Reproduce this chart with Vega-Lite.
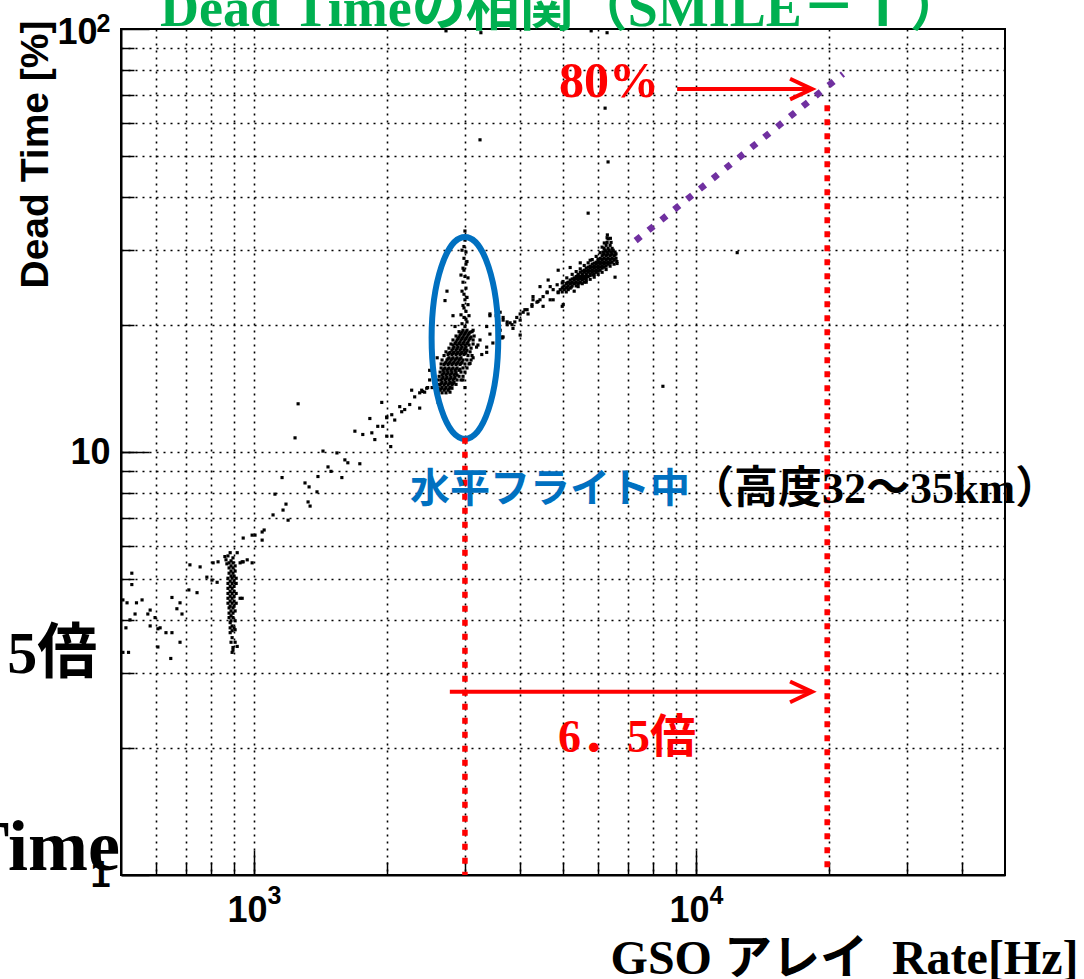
{
  "$schema": "https://vega.github.io/schema/vega-lite/v6.json",
  "width": 884,
  "height": 846,
  "autosize": {"type": "none"},
  "padding": {"left": 121, "top": 29, "right": 79, "bottom": 104},
  "background": "white",
  "config": {"view": {"stroke": "#000", "strokeWidth": 2}},
  "datasets": {
    "pts": [
      {"rate":1258,"dead":13.0},{"rate":1238,"dead":10.8},{"rate":1691,"dead":11.2},{"rate":1762,"dead":11.0},{"rate":1847,"dead":11.1},{"rate":1905,"dead":11.5},{"rate":1945,"dead":13.1},{"rate":1996,"dead":12.1},{"rate":1996,"dead":10.9},{"rate":1432,"dead":10.05},
      {"rate":1540,"dead":9.95},{"rate":1605,"dead":9.58},{"rate":1630,"dead":9.43},{"rate":1735,"dead":9.38},{"rate":1470,"dead":9.22},{"rate":1493,"dead":9.0},{"rate":1580,"dead":8.7},{"rate":1395,"dead":8.75},{"rate":1304,"dead":8.45},{"rate":1388,"dead":8.05},
      {"rate":1332,"dead":8.27},{"rate":1157,"dead":8.7},{"rate":1115,"dead":7.95},{"rate":1325,"dead":7.62},{"rate":1339,"dead":7.45},{"rate":1181,"dead":7.53},{"rate":1163,"dead":7.29},{"rate":1104,"dead":7.1},{"rate":1194,"dead":6.9},{"rate":1054,"dead":6.54},
      {"rate":1043,"dead":6.47},{"rate":1005,"dead":6.36},{"rate":1043,"dead":6.19},{"rate":945,"dead":6.26},{"rate":990,"dead":6.36},{"rate":808,"dead":5.47},{"rate":829,"dead":5.5},{"rate":803,"dead":4.98},{"rate":755,"dead":5.35},{"rate":716,"dead":5.41},
      {"rate":782,"dead":5.06},{"rate":825,"dead":4.92},{"rate":743,"dead":4.65},{"rate":712,"dead":4.72},{"rate":680,"dead":4.4},{"rate":652,"dead":4.53},{"rate":669,"dead":4.26},{"rate":687,"dead":4.14},{"rate":582,"dead":4.23},{"rate":575,"dead":4.14},
      {"rate":558,"dead":4.47},{"rate":542,"dead":4.4},{"rate":529,"dead":5.17},{"rate":529,"dead":4.86},{"rate":516,"dead":4.4},{"rate":505,"dead":4.47},{"rate":538,"dead":4.14},{"rate":524,"dead":4.01},{"rate":513,"dead":3.84},{"rate":582,"dead":3.88},
      {"rate":597,"dead":4.06},{"rate":606,"dead":3.82},{"rate":613,"dead":3.84},{"rate":632,"dead":3.74},{"rate":652,"dead":3.74},{"rate":680,"dead":3.55},{"rate":648,"dead":3.25},{"rate":606,"dead":3.46},{"rate":520,"dead":3.36},{"rate":505,"dead":3.36},
      {"rate":940,"dead":5.5},{"rate":965,"dead":5.56},{"rate":990,"dead":5.47},{"rate":930,"dead":4.51},
      {"rate":1996,"dead":12.05},{"rate":2049,"dead":12.25},{"rate":2158,"dead":12.45},{"rate":2136,"dead":12.8},{"rate":2192,"dead":12.6},{"rate":2309,"dead":13.5},{"rate":2370,"dead":13.8},{"rate":2395,"dead":14.0},{"rate":2458,"dead":14.15},{"rate":2370,"dead":12.7},
      {"rate":2496,"dead":14.8},{"rate":2049,"dead":10.9},{"rate":1955,"dead":11.5},{"rate":2038,"dead":10.3},{"rate":2081,"dead":11.9},{"rate":2250,"dead":12.95},{"rate":2432,"dead":13.85},{"rate":2529,"dead":14.2},{"rate":2273,"dead":14.0},{"rate":1876,"dead":10.7},{"rate":1828,"dead":12.0},
      {"rate":2496,"dead":15.6},{"rate":2470,"dead":14.2},{"rate":2407,"dead":13.9},{"rate":2732,"dead":24.0},{"rate":2704,"dead":22.8},{"rate":2819,"dead":21.0},{"rate":2849,"dead":19.8},{"rate":3130,"dead":19.4},{"rate":3210,"dead":17.9},{"rate":3275,"dead":17.0},
      {"rate":3360,"dead":17.7},{"rate":3417,"dead":21.0},{"rate":3560,"dead":21.2},{"rate":3604,"dead":19.4},{"rate":3640,"dead":18.7},{"rate":2970,"dead":14.8},{"rate":3000,"dead":14.2},{"rate":3081,"dead":16.2},{"rate":3130,"dead":16.7},{"rate":2596,"dead":16.7},{"rate":2610,"dead":13.1},{"rate":2804,"dead":14.55},
      {"rate":3417,"dead":21.2},{"rate":3530,"dead":21.0},{"rate":3604,"dead":21.4},{"rate":3660,"dead":20.5},{"rate":3737,"dead":20.3},{"rate":3834,"dead":20.0},{"rate":3853,"dead":19.6},{"rate":3930,"dead":20.8},{"rate":4000,"dead":20.5},{"rate":4063,"dead":21.4},
      {"rate":4147,"dead":21.7},{"rate":4168,"dead":21.2},{"rate":4254,"dead":22.1},{"rate":4365,"dead":22.6},{"rate":4436,"dead":22.9},{"rate":4507,"dead":23.3},{"rate":4603,"dead":23.8},{"rate":4750,"dead":24.2},{"rate":4677,"dead":24.6},{"rate":4850,"dead":24.85},
      {"rate":4980,"dead":22.1},{"rate":4750,"dead":22.9},{"rate":4507,"dead":22.1},{"rate":4277,"dead":22.9},{"rate":3360,"dead":19.8},{"rate":3245,"dead":18.4},{"rate":3187,"dead":17.7},{"rate":3417,"dead":19.0},{"rate":3568,"dead":19.1},{"rate":3470,"dead":18.1},{"rate":3660,"dead":18.7},{"rate":3360,"dead":17.2},
      {"rate":3660,"dead":20.8},{"rate":3737,"dead":20.0},{"rate":3890,"dead":20.3},{"rate":4000,"dead":21.2},{"rate":4100,"dead":21.7},{"rate":4254,"dead":22.3},{"rate":4277,"dead":23.3},{"rate":4390,"dead":22.7},{"rate":4603,"dead":23.9},{"rate":4677,"dead":22.9},
      {"rate":4876,"dead":23.8},{"rate":4980,"dead":25.1},{"rate":5006,"dead":22.3},{"rate":4436,"dead":24.6},{"rate":4628,"dead":25.5},{"rate":4876,"dead":26.9},{"rate":5190,"dead":27.3},{"rate":5470,"dead":28.0},{"rate":5760,"dead":28.4},{"rate":5852,"dead":26.2},
      {"rate":6557,"dead":25.9},{"rate":6625,"dead":27.9},{"rate":6291,"dead":32.1},{"rate":4000,"dead":18.9},{"rate":3640,"dead":18.6},{"rate":3795,"dead":20.2},
      {"rate":4876,"dead":23.9},{"rate":4980,"dead":23.9},{"rate":5085,"dead":23.9},{"rate":4928,"dead":24.2},{"rate":5032,"dead":24.2},{"rate":5138,"dead":24.2},{"rate":4980,"dead":24.4},{"rate":5085,"dead":24.4},{"rate":5190,"dead":24.4},
      {"rate":5032,"dead":24.7},{"rate":5138,"dead":24.7},{"rate":5245,"dead":24.7},{"rate":5355,"dead":24.7},{"rate":5085,"dead":25.0},{"rate":5190,"dead":25.0},{"rate":5300,"dead":25.0},{"rate":5411,"dead":25.0},
      {"rate":5138,"dead":25.2},{"rate":5245,"dead":25.2},{"rate":5355,"dead":25.2},{"rate":5470,"dead":25.2},{"rate":5585,"dead":25.2},{"rate":5190,"dead":25.5},{"rate":5300,"dead":25.5},{"rate":5411,"dead":25.5},{"rate":5527,"dead":25.5},{"rate":5643,"dead":25.5},
      {"rate":5300,"dead":25.8},{"rate":5411,"dead":25.8},{"rate":5527,"dead":25.8},{"rate":5643,"dead":25.8},{"rate":5355,"dead":26.0},{"rate":5470,"dead":26.0},{"rate":5585,"dead":26.0},{"rate":5700,"dead":26.0},
      {"rate":5411,"dead":26.3},{"rate":5527,"dead":26.3},{"rate":5643,"dead":26.3},{"rate":5760,"dead":26.3},{"rate":5882,"dead":26.3},{"rate":5470,"dead":26.6},{"rate":5585,"dead":26.6},{"rate":5700,"dead":26.6},{"rate":5822,"dead":26.6},{"rate":5943,"dead":26.6},
      {"rate":5585,"dead":26.9},{"rate":5700,"dead":26.9},{"rate":5822,"dead":26.9},{"rate":5943,"dead":26.9},{"rate":6067,"dead":26.9},{"rate":5643,"dead":27.2},{"rate":5760,"dead":27.2},{"rate":5882,"dead":27.2},{"rate":6005,"dead":27.2},{"rate":6130,"dead":27.2},
      {"rate":5760,"dead":27.5},{"rate":5882,"dead":27.5},{"rate":6005,"dead":27.5},{"rate":6130,"dead":27.5},{"rate":6259,"dead":27.5},{"rate":5822,"dead":27.8},{"rate":5943,"dead":27.8},{"rate":6067,"dead":27.8},{"rate":6194,"dead":27.8},{"rate":6323,"dead":27.8},
      {"rate":5943,"dead":28.1},{"rate":6067,"dead":28.1},{"rate":6194,"dead":28.1},{"rate":6323,"dead":28.1},{"rate":6457,"dead":28.1},{"rate":6005,"dead":28.4},{"rate":6130,"dead":28.4},{"rate":6259,"dead":28.4},{"rate":6390,"dead":28.4},{"rate":6523,"dead":28.4},
      {"rate":6067,"dead":28.7},{"rate":6194,"dead":28.7},{"rate":6323,"dead":28.7},{"rate":6457,"dead":28.7},{"rate":6590,"dead":28.7},{"rate":6130,"dead":29.1},{"rate":6259,"dead":29.1},{"rate":6390,"dead":29.1},{"rate":6523,"dead":29.1},
      {"rate":6194,"dead":29.4},{"rate":6323,"dead":29.4},{"rate":6457,"dead":29.4},{"rate":6590,"dead":29.4},{"rate":6162,"dead":29.7},{"rate":6291,"dead":29.7},{"rate":6423,"dead":29.7},{"rate":6557,"dead":29.7},
      {"rate":6226,"dead":30.0},{"rate":6356,"dead":30.0},{"rate":6490,"dead":30.0},{"rate":6194,"dead":30.3},{"rate":6323,"dead":30.3},{"rate":6457,"dead":30.3},{"rate":6259,"dead":30.8},{"rate":6390,"dead":30.8},{"rate":6291,"dead":31.3},{"rate":6423,"dead":31.3},{"rate":6323,"dead":31.9},
      {"rate":5300,"dead":24.0},{"rate":5411,"dead":24.6},{"rate":5527,"dead":25.0},{"rate":5643,"dead":25.2},{"rate":5760,"dead":25.6},{"rate":5882,"dead":25.9},{"rate":6005,"dead":26.3},{"rate":6130,"dead":26.6},{"rate":6259,"dead":27.0},{"rate":6390,"dead":27.5},{"rate":6523,"dead":27.8},{"rate":6620,"dead":28.2},
      {"rate":5000,"dead":25.3},{"rate":5100,"dead":25.8},{"rate":5245,"dead":26.3},{"rate":5355,"dead":26.7},{"rate":5470,"dead":27.1},{"rate":5585,"dead":27.6},{"rate":5700,"dead":28.0},{"rate":5822,"dead":28.5},{"rate":5943,"dead":29.0},{"rate":6067,"dead":29.6},{"rate":6130,"dead":30.5},{"rate":6200,"dead":31.2},{"rate":6300,"dead":32.6},{"rate":6400,"dead":32.0},
      {"rate":5000,"dead":24.55},{"rate":5110,"dead":24.55},{"rate":5220,"dead":24.55},{"rate":5110,"dead":25.1},{"rate":5220,"dead":25.1},{"rate":5330,"dead":25.1},{"rate":5440,"dead":25.1},
      {"rate":5245,"dead":25.65},{"rate":5355,"dead":25.65},{"rate":5470,"dead":25.65},{"rate":5585,"dead":25.65},{"rate":5411,"dead":26.15},{"rate":5527,"dead":26.15},{"rate":5643,"dead":26.15},{"rate":5760,"dead":26.15},
      {"rate":5527,"dead":26.75},{"rate":5643,"dead":26.75},{"rate":5760,"dead":26.75},{"rate":5882,"dead":26.75},{"rate":6005,"dead":26.75},{"rate":5700,"dead":27.35},{"rate":5822,"dead":27.35},{"rate":5943,"dead":27.35},{"rate":6067,"dead":27.35},{"rate":6194,"dead":27.35},
      {"rate":5882,"dead":27.95},{"rate":6005,"dead":27.95},{"rate":6130,"dead":27.95},{"rate":6259,"dead":27.95},{"rate":6390,"dead":27.95},{"rate":6005,"dead":28.55},{"rate":6130,"dead":28.55},{"rate":6259,"dead":28.55},{"rate":6390,"dead":28.55},{"rate":6523,"dead":28.55},
      {"rate":6162,"dead":29.25},{"rate":6291,"dead":29.25},{"rate":6423,"dead":29.25},{"rate":6557,"dead":29.25},{"rate":6226,"dead":29.85},{"rate":6356,"dead":29.85},{"rate":6490,"dead":29.85},
      {"rate":2663,"dead":13.8},{"rate":2718,"dead":13.8},{"rate":2636,"dead":14.0},{"rate":2691,"dead":14.0},{"rate":2747,"dead":14.0},{"rate":2663,"dead":14.2},{"rate":2718,"dead":14.2},{"rate":2775,"dead":14.2},
      {"rate":2636,"dead":14.4},{"rate":2691,"dead":14.4},{"rate":2747,"dead":14.4},{"rate":2804,"dead":14.4},{"rate":2663,"dead":14.6},{"rate":2718,"dead":14.6},{"rate":2775,"dead":14.6},{"rate":2834,"dead":14.6},
      {"rate":2650,"dead":14.8},{"rate":2704,"dead":14.8},{"rate":2761,"dead":14.8},{"rate":2819,"dead":14.8},{"rate":2677,"dead":15.0},{"rate":2732,"dead":15.0},{"rate":2790,"dead":15.0},{"rate":2849,"dead":15.0},
      {"rate":2663,"dead":15.2},{"rate":2718,"dead":15.2},{"rate":2775,"dead":15.2},{"rate":2834,"dead":15.2},{"rate":2879,"dead":15.2},{"rate":2691,"dead":15.4},{"rate":2747,"dead":15.4},{"rate":2804,"dead":15.4},{"rate":2864,"dead":15.4},
      {"rate":2677,"dead":15.6},{"rate":2732,"dead":15.6},{"rate":2790,"dead":15.6},{"rate":2849,"dead":15.6},{"rate":2909,"dead":15.6},{"rate":2704,"dead":15.8},{"rate":2761,"dead":15.8},{"rate":2819,"dead":15.8},{"rate":2879,"dead":15.8},
      {"rate":2691,"dead":16.1},{"rate":2747,"dead":16.1},{"rate":2804,"dead":16.1},{"rate":2864,"dead":16.1},{"rate":2924,"dead":16.1},{"rate":2718,"dead":16.3},{"rate":2775,"dead":16.3},{"rate":2834,"dead":16.3},{"rate":2894,"dead":16.3},{"rate":2955,"dead":16.3},
      {"rate":2732,"dead":16.5},{"rate":2790,"dead":16.5},{"rate":2849,"dead":16.5},{"rate":2909,"dead":16.5},{"rate":2970,"dead":16.5},{"rate":2761,"dead":16.7},{"rate":2819,"dead":16.7},{"rate":2879,"dead":16.7},{"rate":2939,"dead":16.7},
      {"rate":2747,"dead":17.0},{"rate":2804,"dead":17.0},{"rate":2864,"dead":17.0},{"rate":2924,"dead":17.0},{"rate":2985,"dead":17.0},{"rate":2775,"dead":17.2},{"rate":2834,"dead":17.2},{"rate":2894,"dead":17.2},{"rate":2955,"dead":17.2},{"rate":3016,"dead":17.2},
      {"rate":2804,"dead":17.4},{"rate":2864,"dead":17.4},{"rate":2924,"dead":17.4},{"rate":2985,"dead":17.4},{"rate":3032,"dead":17.4},{"rate":2834,"dead":17.7},{"rate":2894,"dead":17.7},{"rate":2955,"dead":17.7},{"rate":3016,"dead":17.7},
      {"rate":2819,"dead":17.9},{"rate":2879,"dead":17.9},{"rate":2939,"dead":17.9},{"rate":3000,"dead":17.9},{"rate":3064,"dead":17.9},{"rate":2864,"dead":18.2},{"rate":2924,"dead":18.2},{"rate":2985,"dead":18.2},{"rate":3048,"dead":18.2},
      {"rate":2879,"dead":18.4},{"rate":2939,"dead":18.4},{"rate":3000,"dead":18.4},{"rate":3064,"dead":18.4},{"rate":2909,"dead":18.7},{"rate":2970,"dead":18.7},{"rate":3032,"dead":18.7},{"rate":3097,"dead":18.7},
      {"rate":2924,"dead":18.9},{"rate":2985,"dead":18.9},{"rate":3048,"dead":18.9},{"rate":2955,"dead":19.2},{"rate":3016,"dead":19.2},{"rate":3081,"dead":19.2},{"rate":2970,"dead":19.4},{"rate":3032,"dead":19.4},{"rate":3000,"dead":19.8},
      {"rate":2610,"dead":13.85},{"rate":2775,"dead":13.85},{"rate":2610,"dead":14.15},{"rate":2804,"dead":14.15},{"rate":2610,"dead":14.45},{"rate":2864,"dead":14.45},{"rate":2610,"dead":14.8},{"rate":2879,"dead":14.8},{"rate":2939,"dead":14.8},
      {"rate":2623,"dead":15.1},{"rate":2909,"dead":15.1},{"rate":2970,"dead":15.1},{"rate":2636,"dead":15.45},{"rate":2939,"dead":15.45},{"rate":3000,"dead":15.45},{"rate":2650,"dead":15.8},{"rate":2970,"dead":15.8},{"rate":3032,"dead":15.8},
      {"rate":2650,"dead":16.15},{"rate":3000,"dead":16.15},{"rate":3064,"dead":16.15},{"rate":2663,"dead":16.5},{"rate":3032,"dead":16.5},{"rate":3097,"dead":16.5},{"rate":2691,"dead":16.9},{"rate":3048,"dead":16.9},{"rate":3113,"dead":16.9},
      {"rate":2718,"dead":17.25},{"rate":3081,"dead":17.25},{"rate":2761,"dead":17.6},{"rate":3097,"dead":17.6},{"rate":2790,"dead":18.0},{"rate":3130,"dead":18.0},{"rate":2819,"dead":18.4},{"rate":3130,"dead":18.4},
      {"rate":2864,"dead":18.8},{"rate":3147,"dead":18.8},{"rate":2909,"dead":19.25},{"rate":3113,"dead":19.25},
      {"rate":2650,"dead":14.1},{"rate":2704,"dead":14.1},{"rate":2761,"dead":14.1},{"rate":2650,"dead":14.5},{"rate":2704,"dead":14.5},{"rate":2761,"dead":14.5},{"rate":2819,"dead":14.5},
      {"rate":2663,"dead":14.9},{"rate":2718,"dead":14.9},{"rate":2775,"dead":14.9},{"rate":2834,"dead":14.9},{"rate":2677,"dead":15.3},{"rate":2732,"dead":15.3},{"rate":2790,"dead":15.3},{"rate":2849,"dead":15.3},
      {"rate":2691,"dead":15.7},{"rate":2747,"dead":15.7},{"rate":2804,"dead":15.7},{"rate":2864,"dead":15.7},{"rate":2924,"dead":15.7},{"rate":2704,"dead":16.2},{"rate":2761,"dead":16.2},{"rate":2819,"dead":16.2},{"rate":2879,"dead":16.2},{"rate":2939,"dead":16.2},
      {"rate":2747,"dead":16.6},{"rate":2804,"dead":16.6},{"rate":2864,"dead":16.6},{"rate":2924,"dead":16.6},{"rate":2761,"dead":17.1},{"rate":2819,"dead":17.1},{"rate":2879,"dead":17.1},{"rate":2939,"dead":17.1},{"rate":3000,"dead":17.1},
      {"rate":2819,"dead":17.55},{"rate":2879,"dead":17.55},{"rate":2939,"dead":17.55},{"rate":3000,"dead":17.55},{"rate":2849,"dead":18.05},{"rate":2909,"dead":18.05},{"rate":2970,"dead":18.05},{"rate":3032,"dead":18.05},
      {"rate":2894,"dead":18.55},{"rate":2955,"dead":18.55},{"rate":3016,"dead":18.55},{"rate":3081,"dead":18.55},{"rate":2939,"dead":19.05},{"rate":3000,"dead":19.05},{"rate":3064,"dead":19.05},
      {"rate":3000,"dead":31.7},{"rate":2985,"dead":30.6},{"rate":3016,"dead":29.7},{"rate":2985,"dead":28.7},{"rate":3016,"dead":27.8},{"rate":2985,"dead":26.9},{"rate":3000,"dead":26.0},{"rate":2970,"dead":25.2},{"rate":3016,"dead":24.4},
      {"rate":2985,"dead":23.6},{"rate":3000,"dead":22.9},{"rate":2970,"dead":22.2},{"rate":3016,"dead":21.5},{"rate":2985,"dead":20.8},{"rate":2955,"dead":20.1},{"rate":3032,"dead":20.3},{"rate":2939,"dead":21.1},{"rate":3048,"dead":22.3},
      {"rate":2955,"dead":30.0},{"rate":3032,"dead":28.2},{"rate":2970,"dead":27.2},{"rate":3048,"dead":25.8},{"rate":2955,"dead":24.0},{"rate":3032,"dead":23.2},{"rate":2985,"dead":21.9},{"rate":3016,"dead":20.6},{"rate":3000,"dead":33.3},{"rate":2939,"dead":26.2},{"rate":3064,"dead":21.0},
      {"rate":2718,"dead":99},{"rate":3260,"dead":98},{"rate":5790,"dead":99},{"rate":6290,"dead":98},{"rate":3245,"dead":54.7},{"rate":6226,"dead":65},{"rate":6323,"dead":48.5},{"rate":5700,"dead":36.7},{"rate":8414,"dead":14.3},{"rate":12390,"dead":29.6},
      {"rate":883,"dead":5.78},{"rate":873,"dead":5.68},{"rate":896,"dead":5.62},{"rate":887,"dead":5.53},{"rate":878,"dead":5.47},{"rate":896,"dead":5.47},{"rate":887,"dead":5.38},{"rate":906,"dead":5.38},{"rate":878,"dead":5.32},{"rate":896,"dead":5.32},
      {"rate":887,"dead":5.23},{"rate":906,"dead":5.23},{"rate":878,"dead":5.17},{"rate":896,"dead":5.17},{"rate":887,"dead":5.09},{"rate":901,"dead":5.09},{"rate":873,"dead":5.03},{"rate":892,"dead":5.03},{"rate":911,"dead":5.03},
      {"rate":883,"dead":4.95},{"rate":901,"dead":4.95},{"rate":873,"dead":4.89},{"rate":892,"dead":4.89},{"rate":911,"dead":4.89},{"rate":883,"dead":4.81},{"rate":901,"dead":4.81},{"rate":873,"dead":4.76},{"rate":892,"dead":4.76},
      {"rate":883,"dead":4.68},{"rate":901,"dead":4.68},{"rate":873,"dead":4.63},{"rate":892,"dead":4.63},{"rate":911,"dead":4.63},{"rate":883,"dead":4.56},{"rate":901,"dead":4.56},{"rate":873,"dead":4.51},{"rate":892,"dead":4.51},
      {"rate":883,"dead":4.44},{"rate":901,"dead":4.44},{"rate":873,"dead":4.39},{"rate":892,"dead":4.39},{"rate":911,"dead":4.39},{"rate":883,"dead":4.32},{"rate":901,"dead":4.32},{"rate":878,"dead":4.28},{"rate":896,"dead":4.28},
      {"rate":887,"dead":4.21},{"rate":906,"dead":4.21},{"rate":878,"dead":4.16},{"rate":896,"dead":4.16},{"rate":887,"dead":4.10},{"rate":878,"dead":4.06},{"rate":896,"dead":4.06},{"rate":887,"dead":3.99},{"rate":906,"dead":3.99},
      {"rate":883,"dead":3.95},{"rate":892,"dead":3.88},{"rate":883,"dead":3.84},{"rate":901,"dead":3.84},{"rate":892,"dead":3.78},{"rate":883,"dead":3.74},{"rate":892,"dead":3.64},{"rate":887,"dead":3.55},{"rate":906,"dead":3.55},{"rate":896,"dead":3.45},{"rate":892,"dead":3.36},
      {"rate":864,"dead":5.56},{"rate":916,"dead":5.78},{"rate":859,"dead":5.66},{"rate":868,"dead":5.44},{"rate":930,"dead":5.47},{"rate":945,"dead":5.5},{"rate":906,"dead":3.8},{"rate":896,"dead":3.4},{"rate":916,"dead":3.47},{"rate":940,"dead":4.51}
    ]
  },
  "layer": [
    {
      "data": {"name": "pts"},
      "mark": {"type": "square", "size": 10, "color": "#000", "opacity": 1},
      "encoding": {
        "x": {"field": "rate", "type": "quantitative",
          "scale": {"type": "log", "domain": [500, 50000], "nice": false, "zero": false},
          "axis": {"orient": "bottom", "values": [600,700,800,900,1000,2000,3000,4000,5000,6000,7000,8000,9000,10000,20000,30000,40000],
            "tickSize": -13, "tickColor": "#000", "tickWidth": 1.5, "labels": false, "domain": false,
            "grid": true, "gridColor": "#000", "gridDash": [2, 5], "gridWidth": 1.6, "title": null}},
        "y": {"field": "dead", "type": "quantitative",
          "scale": {"type": "log", "domain": [1, 100], "nice": false, "zero": false},
          "axis": {"orient": "left", "values": [2,3,4,5,6,7,8,9,10,20,30,40,50,60,70,80,90],
            "tickSize": -13, "tickColor": "#000", "tickWidth": 1.5, "labels": false, "domain": false,
            "grid": true, "gridColor": "#000", "gridDash": [2, 5], "gridWidth": 1.6, "title": null}}
      }
    },
    {
      "data": {"values": [{"rate": 3000, "dead": 18.6}]},
      "mark": {"type": "point", "shape": "M-0.33,0 A0.33,1 0 1,0 0.33,0 A0.33,1 0 1,0 -0.33,0 Z", "size": 40804, "filled": false, "stroke": "#0070C0", "strokeWidth": 6, "opacity": 1},
      "encoding": {
        "x": {"field": "rate", "type": "quantitative",
          "scale": {"type": "log", "domain": [500, 50000], "nice": false, "zero": false},
          "axis": {"orient": "bottom", "values": [1000, 10000], "tickSize": -25, "tickColor": "#000", "tickWidth": 1.5,
            "labelExpr": "'10'", "labelFont": "Liberation Sans", "labelFontWeight": "bold", "labelFontSize": 36, "labelOffset": -7,
            "labelColor": "#000", "labelPadding": 43, "labelOverlap": false, "labelFlush": false, "labelBound": false,
            "grid": false, "domain": true, "domainColor": "#000", "domainWidth": 2,
            "title": "GSO アレイ\u00a0\u00a0Rate[Hz]", "titleX": 957, "titleY": 98, "titleAlign": "right", "titleBaseline": "alphabetic", "titleAngle": 0,
            "titleFont": "Liberation Serif, Noto Sans CJK JP", "titleFontSize": 48, "titleFontWeight": "bold", "titleColor": "#000"}},
        "y": {"field": "dead", "type": "quantitative",
          "scale": {"type": "log", "domain": [1, 100], "nice": false, "zero": false},
          "axis": {"orient": "left", "values": [1, 10, 100], "tickSize": -28, "tickColor": "#000", "tickWidth": 1.5,
            "labelExpr": "datum.value >= 100 ? '' : datum.value >= 10 ? '10' : '1'", "labelFont": "Liberation Sans", "labelFontWeight": "bold", "labelFontSize": 36,
            "labelColor": "#000", "labelPadding": 39, "labelOverlap": false, "labelFlush": false, "labelBound": false,
            "grid": false, "domain": true, "domainColor": "#000", "domainWidth": 2,
            "title": "Dead Time [%]", "titleX": -86, "titleY": -9, "titleAngle": 270, "titleAlign": "right", "titleBaseline": "middle",
            "titleFont": "Liberation Sans", "titleFontSize": 39, "titleFontWeight": "bold", "titleColor": "#000"}}
      }
    },
    {
      "data": {"values": [{"rate": 3000, "top": 10.8, "bottom": 1}, {"rate": 19800, "top": 66, "bottom": 1}]},
      "mark": {"type": "rule", "color": "#FF0000", "strokeWidth": 5.5, "strokeDash": [6, 8], "strokeCap": "butt"},
      "encoding": {
        "x": {"field": "rate", "type": "quantitative", "scale": {"type": "log", "domain": [500, 50000], "nice": false},
          "axis": {"orient": "bottom", "values": [1000, 10000], "ticks": false, "domain": false, "grid": false,
            "labelExpr": "datum.value == 1000 ? '3' : '4'", "labelFont": "Liberation Sans", "labelFontWeight": "bold", "labelFontSize": 25,
            "labelOffset": 20, "labelPadding": 8, "labelColor": "#000", "labelOverlap": false, "labelFlush": false, "labelBound": false, "title": null}},
        "y": {"field": "top", "type": "quantitative", "scale": {"type": "log", "domain": [1, 100], "nice": false},
          "axis": {"orient": "left", "values": [100], "ticks": false, "domain": false, "grid": false,
            "labelExpr": "'10'", "labelFont": "Liberation Sans", "labelFontWeight": "bold", "labelFontSize": 36,
            "labelOffset": 3, "labelPadding": 24, "labelColor": "#000", "labelOverlap": false, "labelFlush": false, "labelBound": false, "title": null}},
        "y2": {"field": "bottom"}
      }
    },
    {
      "data": {"values": [{"rate": 7300, "dead": 31.6, "rate2": 21500, "dead2": 78.3}]},
      "mark": {"type": "rule", "color": "#7030A0", "strokeWidth": 6.5, "strokeDash": [6.5, 10], "strokeCap": "butt"},
      "encoding": {
        "x": {"field": "rate", "type": "quantitative", "scale": {"type": "log", "domain": [500, 50000], "nice": false}, "axis": null},
        "x2": {"field": "rate2"},
        "y": {"field": "dead", "type": "quantitative", "scale": {"type": "log", "domain": [1, 100], "nice": false},
          "axis": {"orient": "left", "values": [100], "ticks": false, "domain": false, "grid": false,
            "labelExpr": "'2'", "labelFont": "Liberation Sans", "labelFontWeight": "bold", "labelFontSize": 25,
            "labelOffset": -6, "labelPadding": 11, "labelColor": "#000", "labelOverlap": false, "labelFlush": false, "labelBound": false, "title": null}},
        "y2": {"field": "dead2"}
      }
    },
    {
      "data": {"values": [{"rate": 9060, "rate2": 18300, "dead": 72.1}, {"rate": 2773, "rate2": 18300, "dead": 2.71}]},
      "mark": {"type": "rule", "color": "#FF0000", "strokeWidth": 4},
      "encoding": {
        "x": {"field": "rate", "type": "quantitative", "scale": {"type": "log", "domain": [500, 50000], "nice": false}, "axis": null},
        "x2": {"field": "rate2"},
        "y": {"field": "dead", "type": "quantitative", "scale": {"type": "log", "domain": [1, 100], "nice": false}, "axis": null}
      }
    },
    {
      "data": {"values": [{"rate": 18300, "dead": 72.1}, {"rate": 18300, "dead": 2.71}]},
      "mark": {"type": "point", "shape": "M-1,-0.47 L0,0 L-1,0.47", "size": 1936, "filled": false, "stroke": "#FF0000", "strokeWidth": 4, "opacity": 1},
      "encoding": {
        "x": {"field": "rate", "type": "quantitative", "scale": {"type": "log", "domain": [500, 50000], "nice": false}, "axis": null},
        "y": {"field": "dead", "type": "quantitative", "scale": {"type": "log", "domain": [1, 100], "nice": false}, "axis": null}
      }
    },
    {
      "data": {"values": [{"rate": 6350, "dead": 75, "label": "80%"}]},
      "mark": {"type": "text", "color": "#FF0000", "font": "Liberation Serif, Noto Sans CJK JP", "fontWeight": "bold", "fontSize": 50, "align": "center", "baseline": "middle"},
      "encoding": {
        "x": {"field": "rate", "type": "quantitative", "scale": {"type": "log", "domain": [500, 50000], "nice": false}, "axis": null},
        "y": {"field": "dead", "type": "quantitative", "scale": {"type": "log", "domain": [1, 100], "nice": false}, "axis": null},
        "text": {"field": "label"}
      }
    },
    {
      "data": {"values": [{"rate": 6980, "dead": 2.11, "label": "6．5倍"}]},
      "mark": {"type": "text", "color": "#FF0000", "font": "Liberation Serif, Noto Sans CJK JP", "fontWeight": "bold", "fontSize": 46, "align": "center", "baseline": "middle"},
      "encoding": {
        "x": {"field": "rate", "type": "quantitative", "scale": {"type": "log", "domain": [500, 50000], "nice": false}, "axis": null},
        "y": {"field": "dead", "type": "quantitative", "scale": {"type": "log", "domain": [1, 100], "nice": false}, "axis": null},
        "text": {"field": "label"}
      }
    },
    {
      "data": {"values": [{"rate": 2254, "dead": 8.13, "label": "水平フライト中"}]},
      "mark": {"type": "text", "color": "#0070C0", "font": "Noto Sans CJK JP", "fontWeight": "bold", "fontSize": 40, "align": "left", "baseline": "middle"},
      "encoding": {
        "x": {"field": "rate", "type": "quantitative", "scale": {"type": "log", "domain": [500, 50000], "nice": false}, "axis": null},
        "y": {"field": "dead", "type": "quantitative", "scale": {"type": "log", "domain": [1, 100], "nice": false}, "axis": null},
        "text": {"field": "label"}
      }
    },
    {
      "data": {"values": [{"rate": 9690, "dead": 8.13, "label": "（高度32～35km）"}]},
      "mark": {"type": "text", "color": "#000", "font": "Liberation Serif, Noto Sans CJK JP", "fontWeight": "bold", "fontSize": 44, "align": "left", "baseline": "middle"},
      "encoding": {
        "x": {"field": "rate", "type": "quantitative", "scale": {"type": "log", "domain": [500, 50000], "nice": false}, "axis": null},
        "y": {"field": "dead", "type": "quantitative", "scale": {"type": "log", "domain": [1, 100], "nice": false}, "axis": null},
        "text": {"field": "label"}
      }
    },
    {
      "data": {"values": [{"rate": 613, "dead": 101.8, "label": "Dead Timeの相関（SMILE－Ⅰ）"}]},
      "mark": {"type": "text", "color": "#00B050", "font": "Liberation Serif, Noto Sans CJK JP", "fontWeight": "bold", "fontSize": 54, "align": "left", "baseline": "alphabetic"},
      "encoding": {
        "x": {"field": "rate", "type": "quantitative", "scale": {"type": "log", "domain": [500, 50000], "nice": false}, "axis": null},
        "y": {"field": "dead", "type": "quantitative", "scale": {"type": "log", "domain": [1, 100], "nice": false}, "axis": null},
        "text": {"field": "label"}
      }
    },
    {
      "data": {"values": [{"rate": 442, "dead": 3.31, "label": "5倍"}]},
      "mark": {"type": "text", "color": "#000", "font": "Liberation Serif, Noto Sans CJK JP", "fontWeight": "bold", "fontSize": 60, "align": "right", "baseline": "middle"},
      "encoding": {
        "x": {"field": "rate", "type": "quantitative", "scale": {"type": "log", "domain": [500, 50000], "nice": false}, "axis": null},
        "y": {"field": "dead", "type": "quantitative", "scale": {"type": "log", "domain": [1, 100], "nice": false}, "axis": null},
        "text": {"field": "label"}
      }
    },
    {
      "data": {"values": [{"rate": 497.4, "dead": 1.028, "label": "Time"}]},
      "mark": {"type": "text", "color": "#000", "font": "Liberation Serif", "fontWeight": "bold", "fontSize": 72, "align": "right", "baseline": "alphabetic"},
      "encoding": {
        "x": {"field": "rate", "type": "quantitative", "scale": {"type": "log", "domain": [500, 50000], "nice": false}, "axis": null},
        "y": {"field": "dead", "type": "quantitative", "scale": {"type": "log", "domain": [1, 100], "nice": false}, "axis": null},
        "text": {"field": "label"}
      }
    }
  ],
  "resolve": {"axis": {"x": "independent", "y": "independent"}}
}
